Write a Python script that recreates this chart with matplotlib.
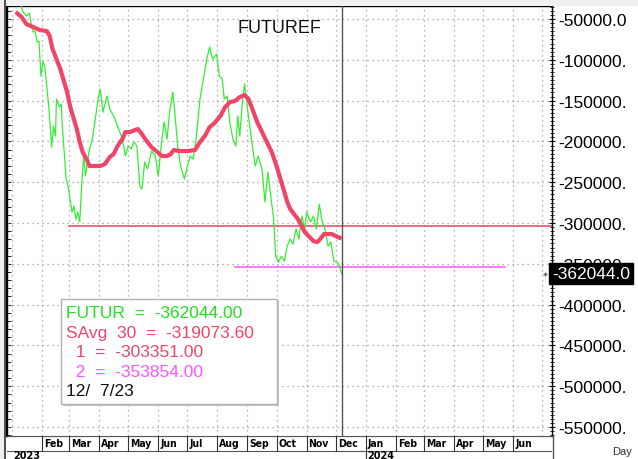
import matplotlib
matplotlib.use('Agg')
import matplotlib.pyplot as plt
import matplotlib.dates as mdates
from matplotlib.patches import Rectangle
from matplotlib.ticker import MultipleLocator, FixedLocator
import pandas as pd

plt.rcParams['font.family'] = ['Liberation Sans', 'DejaVu Sans']

# Datos
fut_dates = [
    '2023-01-05', '2023-01-09', '2023-01-12', '2023-01-16', '2023-01-19', '2023-01-21',
    '2023-01-23', '2023-01-25', '2023-01-27', '2023-01-29', '2023-01-31', '2023-02-02',
    '2023-02-04', '2023-02-06', '2023-02-08', '2023-02-10', '2023-02-11', '2023-02-13',
    '2023-02-15', '2023-02-16', '2023-02-19', '2023-02-21', '2023-02-22', '2023-02-24',
    '2023-02-26', '2023-02-28', '2023-03-02', '2023-03-04', '2023-03-06', '2023-03-08',
    '2023-03-10', '2023-03-12', '2023-03-14', '2023-03-16', '2023-03-18', '2023-03-20',
    '2023-03-22', '2023-03-25', '2023-03-28', '2023-03-31', '2023-04-02', '2023-04-05',
    '2023-04-09', '2023-04-12', '2023-04-16', '2023-04-20', '2023-04-25', '2023-04-28',
    '2023-05-01', '2023-05-04', '2023-05-07', '2023-05-10', '2023-05-13', '2023-05-15',
    '2023-05-18', '2023-05-21', '2023-05-25', '2023-05-29', '2023-06-01', '2023-06-04',
    '2023-06-07', '2023-06-10', '2023-06-13', '2023-06-16', '2023-06-18', '2023-06-21',
    '2023-06-24', '2023-06-28', '2023-07-01', '2023-07-04', '2023-07-07', '2023-07-10',
    '2023-07-14', '2023-07-18', '2023-07-21', '2023-07-24', '2023-07-27', '2023-07-31',
    '2023-08-03', '2023-08-06', '2023-08-08', '2023-08-11', '2023-08-14', '2023-08-17',
    '2023-08-20', '2023-08-22', '2023-08-24', '2023-08-27', '2023-08-29', '2023-09-02',
    '2023-09-06', '2023-09-09', '2023-09-12', '2023-09-16', '2023-09-19', '2023-09-22',
    '2023-09-25', '2023-09-28', '2023-09-30', '2023-10-03', '2023-10-06', '2023-10-09',
    '2023-10-12', '2023-10-15', '2023-10-18', '2023-10-21', '2023-10-24', '2023-10-27',
    '2023-10-30', '2023-11-01', '2023-11-05', '2023-11-08', '2023-11-11', '2023-11-14',
    '2023-11-17', '2023-11-20', '2023-11-23', '2023-11-26', '2023-11-29', '2023-12-02',
    '2023-12-05', '2023-12-07',
]
fut_values = [
    -31600, -25500, -40200, -46300, -42600, -56100,
    -65900, -64700, -78200, -77000, -119900, -102700,
    -107600, -132100, -156600, -188500, -206900, -181100,
    -193400, -148000, -157800, -154200, -181100, -213000,
    -246100, -254700, -270600, -286500, -279200, -295100,
    -286500, -298800, -254700, -217900, -242400, -225200,
    -209300, -197100, -172600, -148000, -135800, -164000,
    -144400, -160300, -168900, -181100, -197100, -217900,
    -205600, -209300, -200700, -205600, -254700, -258300,
    -225200, -233800, -211800, -217900, -242400, -205600,
    -176200, -197100, -160300, -139500, -164000, -205600,
    -230100, -246100, -230100, -217900, -221600, -197100,
    -148000, -119900, -99000, -84300, -99000, -92900,
    -119900, -123500, -148000, -144400, -178700, -197100,
    -205600, -168900, -193400, -148000, -129700, -168900,
    -205600, -230100, -217900, -233800, -274300, -237500,
    -266900, -295100, -340400, -347800, -340400, -346600,
    -328200, -319600, -325700, -307400, -319600, -291400,
    -307400, -286500, -298800, -291400, -307400, -276700,
    -298800, -307400, -328200, -323300, -346600, -347800,
    -352700, -362044.00,
]

avg_dates = [
    '2023-01-05', '2023-01-11', '2023-01-16', '2023-01-23', '2023-01-30', '2023-02-06',
    '2023-02-09', '2023-02-12', '2023-02-16', '2023-02-20', '2023-02-23', '2023-02-27',
    '2023-03-02', '2023-03-05', '2023-03-09', '2023-03-12', '2023-03-15', '2023-03-19',
    '2023-03-22', '2023-03-28', '2023-04-02', '2023-04-07', '2023-04-12', '2023-04-16',
    '2023-04-20', '2023-04-25', '2023-04-28', '2023-05-03', '2023-05-08', '2023-05-11',
    '2023-05-15', '2023-05-20', '2023-05-25', '2023-05-31', '2023-06-05', '2023-06-10',
    '2023-06-14', '2023-06-17', '2023-06-23', '2023-07-01', '2023-07-09', '2023-07-14',
    '2023-07-19', '2023-07-24', '2023-07-29', '2023-08-04', '2023-08-09', '2023-08-14',
    '2023-08-19', '2023-08-24', '2023-08-29', '2023-09-02', '2023-09-06', '2023-09-11',
    '2023-09-16', '2023-09-21', '2023-09-26', '2023-10-01', '2023-10-05', '2023-10-09',
    '2023-10-12', '2023-10-15', '2023-10-19', '2023-10-23', '2023-10-27', '2023-10-30',
    '2023-11-04', '2023-11-08', '2023-11-12', '2023-11-15', '2023-11-19', '2023-11-23',
    '2023-11-27', '2023-12-01', '2023-12-07',
]
avg_values = [
    -41400, -47500, -56100, -59800, -63500, -64700,
    -70800, -86800, -99000, -111300, -123500, -139500,
    -156600, -168900, -184800, -200700, -213000, -221600,
    -230100, -230100, -230100, -227700, -219100, -215400,
    -205600, -197100, -188500, -188500, -186000, -184800,
    -190900, -199500, -206900, -213000, -217900, -217900,
    -215400, -210500, -211800, -211800, -210500, -200700,
    -193400, -182400, -177500, -168900, -157800, -151700,
    -150500, -145600, -143100, -148000, -160300, -176200,
    -188500, -200700, -213000, -230100, -246100, -262000,
    -274300, -282800, -289000, -295100, -303700, -311000,
    -317100, -322100, -323300, -319600, -313500, -313500,
    -313500, -315900, -319073.60,
]

level_values = [-303351.00, -353854.00]
level_starts = ['2023-03-01', '2023-08-19']
level_ends = ['2024-07-11', '2024-05-24']
cursor_date = '2023-12-07'

y_ticks = list(range(-550000, -49999, 50000))
x_start, x_end = '2022-12-27', '2024-07-11'
month_labels_until = '2024-06-01'

# Colores
c_fut = '#33ee33'
c_avg = '#f04468'
c_l1 = '#f04060'
c_l2 = '#ff55ff'

W, H = 638, 460
fig = plt.figure(figsize=(W / 100, H / 100), dpi=100)


def fx(x):
    return x / W


def fy(y):
    return 1 - y / H


# Marco gris exterior
fig.patches.append(Rectangle((0, fy(7)), 1, 7 / H, transform=fig.transFigure,
                             facecolor='#f0f0f0', edgecolor='none', zorder=0))
fig.patches.append(Rectangle((0, 0), fx(5), 1, transform=fig.transFigure,
                             facecolor='#f0f0f0', edgecolor='none', zorder=0))

ax = fig.add_axes([fx(7), fy(437), fx(552) - fx(7), fy(7) - fy(437)])
ax.set_xlim(pd.Timestamp(x_start), pd.Timestamp(x_end))
ax.set_ylim(-561000, -34000)

fd = pd.to_datetime(fut_dates)
ad = pd.to_datetime(avg_dates)
ax.plot(fd, fut_values, color=c_fut, lw=0.9, zorder=3)
ax.plot(ad, avg_values, color=c_avg, lw=3.0, solid_capstyle='butt', zorder=4)

for v, s, e, c in zip(level_values, level_starts, level_ends, [c_l1, c_l2]):
    ax.plot([pd.Timestamp(s), pd.Timestamp(e)], [v, v], color=c, lw=1.1, zorder=2)

ax.axvline(pd.Timestamp(cursor_date), color='#555555', lw=1.0, zorder=5)

# Rejilla punteada
month_starts = pd.date_range('2023-01-01', '2024-07-01', freq='MS')
ax.xaxis.set_major_locator(FixedLocator(mdates.date2num(month_starts)))
ax.tick_params(axis='x', length=0, labelbottom=False)
ax.yaxis.set_major_locator(FixedLocator(y_ticks))
ax.grid(True, color='#9a9a9a', linestyle=(0, (1, 3)), lw=0.9)

# Eje derecho
ax.yaxis.tick_right()
ax.yaxis.set_minor_locator(MultipleLocator(5000))
ax.tick_params(axis='y', which='major', direction='inout', length=5, width=0.8,
               pad=2, labelsize=12.5)
ax.tick_params(axis='y', which='minor', direction='inout', length=3, width=0.6)
ax.set_yticklabels([f'{v:.1f}'[:8] for v in y_ticks])

sec = ax.secondary_yaxis('left')
sec.yaxis.set_major_locator(MultipleLocator(10000))
sec.tick_params(direction='in', length=3, width=0.6, labelleft=False)
sec.spines['left'].set_linewidth(1.6)

for sp in ['top', 'right']:
    ax.spines[sp].set_linewidth(1.0)
ax.spines['left'].set_linewidth(1.6)
ax.spines['bottom'].set_color('#555555')

ax.text(0.5, 0.97, 'FUTUREF', transform=ax.transAxes, ha='center', va='top',
        fontsize=13, color='#111111')

# Valor actual en el eje
ax.text(1.0, fut_values[-1], f'{fut_values[-1]:.1f}',
        transform=ax.get_yaxis_transform(), ha='left', va='center',
        fontsize=12.5, color='white', clip_on=False, zorder=10,
        bbox=dict(boxstyle='square,pad=0.18', facecolor='black', edgecolor='black'))
ax.plot([0.988], [fut_values[-1]], marker='+', ms=3, color='#666666',
        transform=ax.get_yaxis_transform(), clip_on=False)

# Leyenda con valores
box = Rectangle((fx(61), fy(405)), fx(277) - fx(61), fy(300) - fy(405),
                transform=fig.transFigure, facecolor='white', edgecolor='#b0b0b0',
                lw=1.0, zorder=20)
shadow = Rectangle((fx(63), fy(407)), fx(277) - fx(61), fy(300) - fy(405),
                   transform=fig.transFigure, facecolor='#c8c8c8', edgecolor='none',
                   zorder=19)
fig.patches.extend([shadow, box])

legend_lines = [
    (f'FUTUR  =  {fut_values[-1]:.2f}', '#22e022'),
    (f'SAvg  30  =  {avg_values[-1]:.2f}', c_avg),
    (f'  1  =  {level_values[0]:.2f}', c_avg),
    (f'  2  =  {level_values[1]:.2f}', c_l2),
    ('12/  7/23', '#111111'),
]
for i, (txt, col) in enumerate(legend_lines):
    fig.text(fx(66), fy(314 + i * 19.5), txt, color=col, fontsize=12.5,
             ha='left', va='center', zorder=21)

# Eje de fechas
axd = fig.add_axes([fx(7), 0, fx(552) - fx(7), fy(437)], sharex=ax)
axd.set_ylim(0, 23)
axd.axis('off')
row = 8
axd.axhline(row, color='#555555', lw=0.8)
axd.axhline(0.5, color='#888888', lw=0.8)
axd.axhline(22.6, color='#555555', lw=0.8)
for m in month_starts[1:]:
    if m > pd.Timestamp(month_labels_until):
        break
    axd.plot([m, m], [row, 23], color='#333333', lw=0.8)
    axd.text(m + pd.Timedelta(days=2), 15.5, m.strftime('%b'), fontsize=7.5,
             ha='left', va='center', color='black', fontweight='bold',
             family=['DejaVu Sans'], fontstretch='condensed')
axd.plot([pd.Timestamp('2024-01-01')] * 2, [0, row], color='#333333', lw=0.8)
axd.text(pd.Timestamp('2023-01-02'), 3.8, '2023', fontsize=7, ha='left', va='center',
         fontweight='bold', family=['DejaVu Sans'])
axd.text(pd.Timestamp('2024-01-03'), 3.8, '2024', fontsize=7, ha='left', va='center',
         fontweight='bold', family=['DejaVu Sans'])

fig.add_artist(plt.Line2D([fx(552.5)] * 2, [0, fy(437)], transform=fig.transFigure,
                          color='#555555', lw=1.0))
fig.add_artist(plt.Line2D([fx(5)] * 2, [0, 1], transform=fig.transFigure,
                          color='#333333', lw=1.2))
fig.text(fx(622), fy(452), 'Day', fontsize=8, ha='center', va='center', color='#333333')

plt.savefig('out.png', dpi=100)
plt.close()
